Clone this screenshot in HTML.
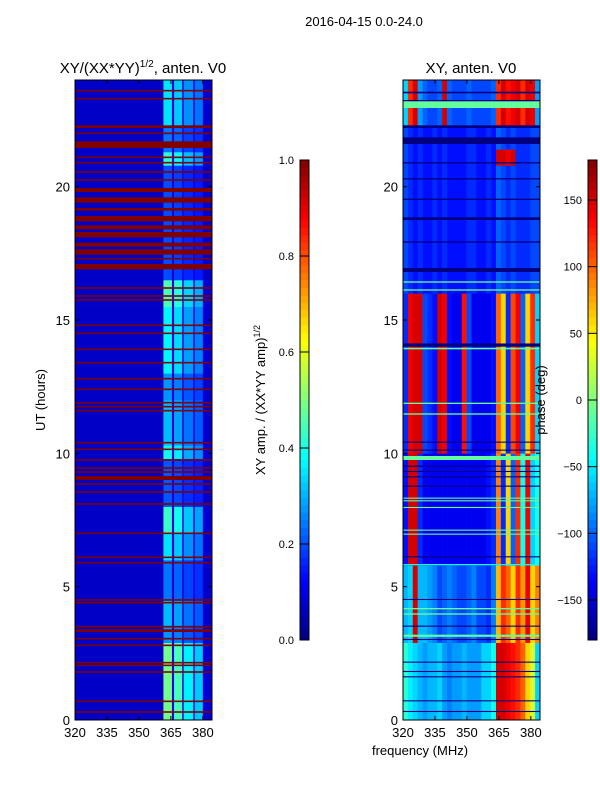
<!DOCTYPE html>
<html><head><meta charset="utf-8">
<style>
body{margin:0;background:#fff;}
svg{display:block;font-family:"Liberation Sans",sans-serif;}
text{fill:#000;}
</style></head>
<body>
<svg id="fig" width="600" height="800" xmlns="http://www.w3.org/2000/svg">
<rect width="600" height="800" fill="#fff"/>
<text x="364" y="26" font-size="13" text-anchor="middle">2016-04-15 0.0-24.0</text>
<text x="143" y="73" font-size="15" text-anchor="middle">XY/(XX*YY)<tspan font-size="10" dy="-6">1/2</tspan><tspan dy="6">, anten. V0</tspan></text>
<text x="471" y="73" font-size="15" text-anchor="middle">XY, anten. V0</text>
<text x="0" y="0" font-size="13" text-anchor="middle" transform="translate(45,400) rotate(-90)">UT (hours)</text>
<text x="420" y="755" font-size="13" text-anchor="middle">frequency (MHz)</text>
<text x="0" y="0" font-size="13" text-anchor="middle" transform="translate(265,400) rotate(-90)">XY amp. / (XX*YY amp)<tspan font-size="9" dy="-5">1/2</tspan></text>
<g id="left"></g>
<g id="right"></g>
<g id="axes"></g>
<text x="0" y="0" font-size="13" text-anchor="middle" transform="translate(545,400) rotate(-90)">phase (deg)</text>
</svg>
<script>
// ---- data ----
const hourTicks=[0,5,10,15,20];
const freqTicks=[320,335,350,365,380];
const ampTicks=[0.0,0.2,0.4,0.6,0.8,1.0];
const phaseTicks=[-150,-100,-50,0,50,100,150];
// left: frequency bands [f0,f1,weight]
const ampFreqBands=[[320,361.5,0.0],[361.5,365.5,1.0],[365.5,366.5,0.1],[366.5,370.3,0.9],[370.3,371,0.1],[371,375.5,0.7],[375.5,376.2,0.1],[376.2,380,0.6],[380,384.3,0.03]];
// left: time segments [h0,h1,gain]
const ampTimeGain=[[0,2.9,0.42],[2.9,3.5,0.2],[3.5,4.5,0.24],[4.5,6,0.17],[6,7,0.28],[7,8,0.36],[8,9.8,0.14],[9.8,10.3,0.32],[10.3,12,0.24],[12,13,0.2],[13,15.5,0.3],[15.5,16.5,0.38],[16.5,20.8,0.13],[20.8,21.3,0.35],[21.3,22.3,0.17],[22.3,24,0.28]];
const ampFloor=0.07;
// left: flagged (value 1) stripes [h0,h1]
const ampFlagged=[[23.57,23.63],[23.27,23.33],[22.2,22.3],[21.97,22.03],[21.45,21.7],[21.07,21.13],[20.87,20.93],[20.52,20.58],[20.22,20.28],[19.8,19.95],[19.4,19.6],[19.1,19.2],[18.7,18.9],[18.4,18.55],[18.1,18.3],[17.75,17.9],[17.45,17.65],[17.27,17.33],[16.9,17.1],[16.17,16.23],[15.87,15.93],[15.72,15.78],[14.77,14.83],[14.47,14.53],[13.87,13.93],[13.37,13.43],[12.77,12.83],[12.37,12.43],[11.87,11.93],[11.72,11.78],[11.57,11.63],[10.37,10.43],[10.12,10.18],[9.72,9.78],[9.42,9.48],[9.27,9.33],[9.0,9.15],[8.82,8.88],[8.52,8.58],[8.07,8.13],[6.97,7.03],[6.07,6.13],[5.87,5.93],[4.47,4.53],[4.37,4.43],[3.47,3.53],[3.3,3.4],[3.02,3.08],[2.77,2.83],[2.12,2.18],[2.02,2.08],[1.77,1.83],[0.67,0.73],[0.27,0.33]];
// right: phase profiles (28 freq columns each, deg)
const profA=[-120,140,150,150,-110,-120,-130,150,140,-130,-140,-140,130,-110,-140,-140,-140,-140,-130,100,60,-120,110,140,-100,60,120,-60];
const profB=[-110,-120,-130,-120,-130,-130,-120,-130,-120,-130,-130,-130,-130,-120,-120,-130,-130,-120,-130,-100,-110,-120,-110,-120,-120,-120,-110,-110];
const profC=[-60,120,150,-80,-100,-110,-110,-100,150,-100,-110,-110,-110,-100,-110,-110,-110,-110,-100,120,150,130,140,150,120,150,140,-80];
const profD=[-130,150,150,-120,-140,-140,-140,-140,-140,-140,-140,-140,-140,-140,-140,-140,-140,-130,-120,90,-120,60,-100,120,-40,140,-60,-40];
const profE=[-70,-60,150,-70,-70,-80,-90,-110,-100,-90,-100,-110,-110,-100,-90,-110,-110,-120,-90,70,120,100,60,120,80,140,60,90];
const profF=[-30,-50,-60,-70,-80,-70,-70,-60,-80,-90,-80,-80,-70,-80,-80,-80,-60,-60,-40,150,150,140,130,120,100,60,30,-60];
const profG=[-110,-120,-130,-120,-130,-130,-120,-130,-120,-130,-130,-130,-130,-120,-120,-130,-130,-120,-130,150,150,140,150,-120,-120,-120,-110,-110];
const phaseSegments=[[0,2.9,profF],[2.9,5.8,profE],[5.8,10,profD],[10,16,profA],[16,20.8,profB],[20.8,21.4,profG],[21.4,22.3,profB],[22.3,24,profC]];
// right: constant-phase stripes [h0,h1,phase]
const phaseStripes=[[23.5,23.56,-180],[23.2,23.25,-180],[22.95,23.2,-10],[22.2,22.3,-180],[21.6,21.85,-180],[20.87,20.92,-180],[20.27,20.32,-180],[19.5,19.55,-180],[18.75,18.85,-180],[17.9,17.95,-180],[16.8,16.95,-180],[16.4,16.45,-10],[16.1,16.15,-10],[14.0,14.12,-180],[13.9,13.96,-10],[11.85,11.9,-10],[11.45,11.5,-10],[10.4,10.44,-180],[10.1,10.14,-180],[9.75,9.9,-10],[9.5,9.54,-180],[9.3,9.34,-180],[9.1,9.14,-180],[8.75,8.79,-180],[8.3,8.34,-10],[8.2,8.24,-10],[7.95,7.99,-10],[7.1,7.14,-10],[6.95,6.99,-10],[6.1,6.14,-180],[5.8,5.85,-40],[4.5,4.54,-180],[4.15,4.2,-10],[3.95,4.0,-10],[3.5,3.54,-180],[3.12,3.2,-10],[3.0,3.04,-180],[2.15,2.19,-180],[1.8,1.84,-180],[1.6,1.64,-180],[0.7,0.74,-180],[0.3,0.34,-180]];

// ---- scales ----
const NS='http://www.w3.org/2000/svg';
const Y=h=>720-h*640/24;
const XL=f=>75+(f-320)*137/64.3;
const XR=f=>403+(f-320)*137/64.3;
function jet(x){x=Math.max(0,Math.min(1,x));
 const c=v=>Math.round(255*Math.max(0,Math.min(1,v)));
 return `rgb(${c(1.5-Math.abs(4*x-3))},${c(1.5-Math.abs(4*x-2))},${c(1.5-Math.abs(4*x-1))})`;}
function mk(tag,attrs,parent){const e=document.createElementNS(NS,tag);for(const k in attrs)e.setAttribute(k,attrs[k]);parent.appendChild(e);return e;}
const L=document.getElementById('left'),R=document.getElementById('right'),A=document.getElementById('axes');

ampTimeGain.forEach(seg=>{ampFreqBands.forEach(b=>{
 const v=ampFloor+b[2]*seg[2];
 const r=mk('rect',{x:XL(b[0]),y:Y(seg[1]),width:XL(b[1])-XL(b[0])+0.3,height:Y(seg[0])-Y(seg[1])+0.3,fill:jet(v)},L);
 
 
});});
ampFlagged.forEach(s=>{
 const r=mk('rect',{x:XL(320),y:Y(s[1]),width:137,height:Math.max(1.2,Y(s[0])-Y(s[1])),fill:jet(1)},L);
 
 
});
const colW=64.3/28;
phaseSegments.forEach(seg=>{seg[2].forEach((p,i)=>{
 const f0=320+i*colW;
 const r=mk('rect',{x:XR(f0),y:Y(seg[1]),width:XR(f0+colW)-XR(f0)+0.3,height:Y(seg[0])-Y(seg[1])+0.3,fill:jet((p+180)/360)},R);
 
 
});});
phaseStripes.forEach(s=>{
 const r=mk('rect',{x:XR(320),y:Y(s[1]),width:137,height:Math.max(1.1,Y(s[0])-Y(s[1])),fill:jet((s[2]+180)/360)},R);
 
 
});

[[75,'left'],[403,'right']].forEach(([x0,nm])=>{
 const fr=mk('rect',{x:x0,y:80,width:137,height:640,fill:'none',stroke:'#000','stroke-width':1},A);
 
 
 const X=nm==='left'?XL:XR;
 hourTicks.forEach(h=>{
  mk('line',{x1:x0,x2:x0+4,y1:Y(h),y2:Y(h),stroke:'#000'},A);
  mk('line',{x1:x0+137,x2:x0+133,y1:Y(h),y2:Y(h),stroke:'#000'},A);
  const t=mk('text',{x:x0-5,y:Y(h)+5,'font-size':13,'text-anchor':'end'},A);t.textContent=h;
  
  
 });
 freqTicks.forEach(f=>{
  mk('line',{x1:X(f),x2:X(f),y1:720,y2:716,stroke:'#000'},A);
  mk('line',{x1:X(f),x2:X(f),y1:80,y2:84,stroke:'#000'},A);
  const t=mk('text',{x:X(f),y:737,'font-size':13,'text-anchor':'middle'},A);t.textContent=f;
  
  
 });
});
function colorbar(x0,name,ticks,toFrac,fmt){
 const g=mk('g',{},A);
 
 
 for(let i=0;i<64;i++){mk('rect',{x:x0,y:640-(i+1)*7.5,width:9,height:7.8,fill:jet((i+0.5)/64)},g);}
 mk('rect',{x:x0,y:160,width:9,height:480,fill:'none',stroke:'#000'},g);
 ticks.forEach(v=>{const y=640-toFrac(v)*480;
  mk('line',{x1:x0,x2:x0+9,y1:y,y2:y,stroke:'#000'},g);
  const t=mk('text',{x:x0-6,y:y+4,'font-size':11,'text-anchor':'end'},g);
  t.textContent=fmt(v);
  
  
 });
}
colorbar(300,'amp-colorbar',ampTicks,v=>v,v=>v.toFixed(1));
colorbar(588,'phase-colorbar',phaseTicks,v=>(v+180)/360,v=>v<0?'\u2212'+(-v):String(v));
</script>
</body></html>
